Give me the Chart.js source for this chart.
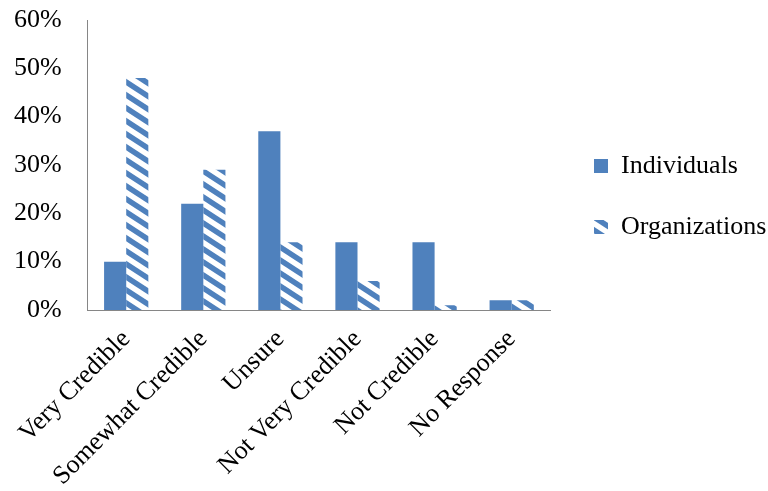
<!DOCTYPE html>
<html>
<head>
<meta charset="utf-8">
<script src="https://cdn.jsdelivr.net/npm/chart.js@4/dist/chart.umd.min.js"></script>
<style>
  html, body { margin: 0; padding: 0; background: #ffffff; }
  #wrap { width: 768px; height: 491px; }
</style>
</head>
<body>
<div id="wrap"><canvas id="chart" width="768" height="491"></canvas></div>
<script>
// Survey responses: perceived credibility, share of respondents
const categories = ['Very Credible', 'Somewhat Credible', 'Unsure', 'Not Very Credible', 'Not Credible', 'No Response'];
const individuals = [10, 22, 37, 14, 14, 2];
const organizations = [48, 29, 14, 6, 1, 2];
const yTicks = [0, 10, 20, 30, 40, 50, 60];

const BLUE = '#4F81BD';
const AXIS = '#868686';
const FONT = "'Liberation Serif', 'Times New Roman', serif";
const FONT_SIZE = 26;

// Downward diagonal stripe fill for the second series
function stripePattern() {
  const w = 20, h = 13;
  const c = document.createElement('canvas');
  c.width = w; c.height = h;
  const g = c.getContext('2d');
  g.fillStyle = '#ffffff';
  g.fillRect(0, 0, w, h);
  g.strokeStyle = BLUE;
  g.lineWidth = 5.5;
  for (const dx of [-w, 0, w]) {
    g.beginPath();
    g.moveTo(dx - w * 0.5, -h * 0.5);
    g.lineTo(dx + w * 1.5, h * 1.5);
    g.stroke();
  }
  return g.createPattern(c, 'repeat');
}

// Place the legend block beside the plot, a little above the canvas middle
const legendPlacement = {
  id: 'legendPlacement',
  afterLayout(chart) {
    const l = chart.legend;
    l.left = 559; l.right = 768;
    l.top -= 56; l.bottom -= 56;
  }
};

const ctx = document.getElementById('chart').getContext('2d');
new Chart(ctx, {
  type: 'bar',
  data: {
    labels: categories,
    datasets: [
      { label: 'Individuals', data: individuals, backgroundColor: BLUE, borderWidth: 0 },
      { label: 'Organizations', data: organizations, backgroundColor: stripePattern(), borderWidth: 0 }
    ]
  },
  plugins: [legendPlacement],
  options: {
    responsive: false,
    animation: false,
    devicePixelRatio: 1,
    layout: { padding: { left: 14, top: 20, right: 39, bottom: 6 } },
    datasets: { bar: { categoryPercentage: 0.574, barPercentage: 1.0 } },
    plugins: {
      tooltip: { enabled: false },
      legend: {
        position: 'right',
        align: 'center',
        labels: {
          boxWidth: 14,
          boxHeight: 14,
          padding: 35,
          color: '#000000',
          font: { family: FONT, size: FONT_SIZE }
        }
      }
    },
    scales: {
      x: {
        grid: { display: false, drawTicks: false },
        border: { display: true, color: AXIS, width: 1 },
        afterFit: (axis) => { axis.paddingLeft = 0; axis.paddingRight = 0; axis.height = 175; },
        ticks: {
          color: '#000000',
          font: { family: FONT, size: FONT_SIZE },
          minRotation: 45,
          maxRotation: 45,
          autoSkip: false,
          padding: 14
        }
      },
      y: {
        min: 0,
        max: 60,
        grid: { display: false, drawTicks: false },
        border: { display: true, color: AXIS, width: 1 },
        afterFit: (axis) => {
          axis.paddingTop = 0; axis.paddingBottom = 0;
          axis.width -= axis.options.ticks.padding;
        },
        afterBuildTicks: (axis) => { axis.ticks = yTicks.map(v => ({ value: v })); },
        ticks: {
          color: '#000000',
          font: { family: FONT, size: FONT_SIZE },
          padding: 26,
          callback: (v) => v + '%'
        }
      }
    }
  }
});
</script>
</body>
</html>
